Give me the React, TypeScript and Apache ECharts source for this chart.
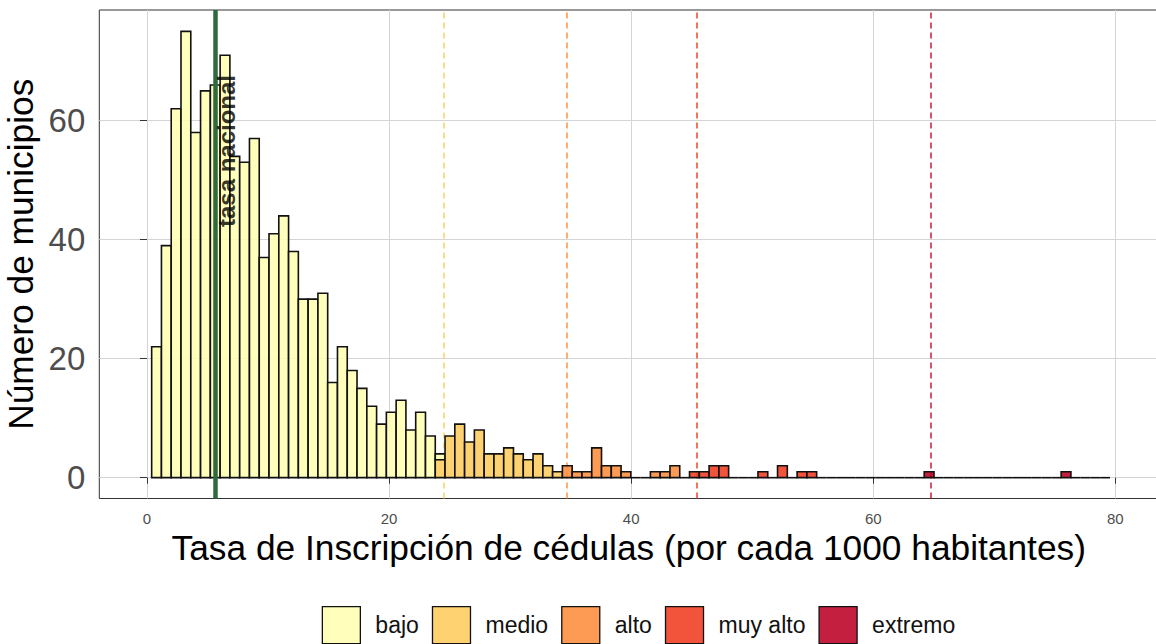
import React, { useEffect, useRef } from "react";
import * as echarts from "echarts";

// ---- data ----
const categories = ["bajo", "medio", "alto", "muy alto", "extremo"];
const categoryFill = [
  "rgba(255,255,178,0.88)",
  "rgba(254,204,92,0.88)",
  "rgba(253,141,60,0.88)",
  "rgba(240,59,32,0.88)",
  "rgba(189,0,38,0.88)",
];
const lineColors = ["#FECC5C", "#FD8D3C", "#F03B20", "#C8102E"];

const binStart = 0.386;
const binWidth = 0.8079;
const binCount = 98;

// counts per category; first value belongs to the bin index given by *Start
const bajoStart = 0;
const bajoCounts = [22, 39, 62, 75, 58, 65, 66, 71, 54, 53, 57, 37, 41, 44, 38, 30, 30, 31, 16, 22, 18, 15, 12, 9, 11, 13, 8, 11, 7, 1];
const medioStart = 29;
const medioCounts = [3, 7, 9, 6, 8, 4, 4, 5, 4, 3, 4, 2, 1];
const altoStart = 42;
const altoCounts = [2, 1, 1, 5, 2, 2, 1, 0, 0, 1, 1, 2];
const muyAltoStart = 55;
const muyAltoCounts = [1, 1, 2, 2, 0, 0, 0, 1, 0, 2, 0, 1, 1];
const extremoStart = 79;
const extremoCounts = [1, 0, 0, 0, 0, 0, 0, 0, 0, 0, 0, 0, 0, 0, 1];

const nationalRate = 5.64;
const thresholds = [24.51, 34.67, 45.43, 64.75];

const xTicks = [0, 20, 40, 60, 80];
const yTicks = [0, 20, 40, 60];

const FONT = "'Liberation Sans', Arial, sans-serif";

function expand(start: number, counts: number[]): number[] {
  const arr = new Array(binCount).fill(0);
  counts.forEach((c, i) => (arr[start + i] = c));
  return arr;
}

export default function App() {
  const ref = useRef<HTMLDivElement>(null);
  useEffect(() => {
    if (!ref.current) return;
    const chart = echarts.init(ref.current, null, { renderer: "svg" });

    const perCat = [
      expand(bajoStart, bajoCounts),
      expand(medioStart, medioCounts),
      expand(altoStart, altoCounts),
      expand(muyAltoStart, muyAltoCounts),
      expand(extremoStart, extremoCounts),
    ];
    // stack: last category at bottom, first on top
    const catData: number[][][] = categories.map(() => []);
    const emptyBins: number[][] = [];
    for (let b = 0; b < binCount; b++) {
      const x0 = binStart + b * binWidth;
      const x1 = x0 + binWidth;
      let cum = 0;
      let total = 0;
      for (let c = categories.length - 1; c >= 0; c--) {
        const v = perCat[c][b];
        if (v > 0) {
          catData[c].push([x0, x1, cum, cum + v]);
          cum += v;
          total += v;
        }
      }
      if (total === 0) emptyBins.push([x0, x1, 0, 0]);
    }

    const barSeries = categories.map((name, ci) => ({
      name,
      type: "custom",
      z: 5,
      itemStyle: { color: categoryFill[ci] },
      encode: { x: [0, 1], y: [2, 3] },
      data: catData[ci],
      renderItem: (params: any, api: any) => {
        const p0 = api.coord([api.value(0), api.value(3)]);
        const p1 = api.coord([api.value(1), api.value(2)]);
        return {
          type: "rect",
          shape: { x: p0[0], y: p0[1], width: p1[0] - p0[0], height: p1[1] - p0[1] },
          style: { fill: categoryFill[ci], stroke: "#111111", lineWidth: 1.6 },
        };
      },
    }));

    const option: any = {
      animation: false,
      backgroundColor: "#ffffff",
      textStyle: { fontFamily: FONT },
      grid: {
        left: 99.3,
        top: 10,
        right: -2.2,
        bottom: 145.5,
        show: true,
        borderColor: "#333333",
        borderWidth: 1,
        containLabel: false,
        outerBoundsMode: "none",
      },
      legend: {
        data: categories,
        left: 321.7,
        top: 606,
        padding: 0,
        itemWidth: 38,
        itemHeight: 37,
        itemGap: 13,
        icon: "rect",
        selectedMode: false,
        itemStyle: { borderColor: "#111111", borderWidth: 1.3 },
        textStyle: { fontSize: 23, color: "#111111", fontFamily: FONT, padding: [0, 0, 0, 10] },
      },
      xAxis: {
        type: "value",
        min: -3.94,
        max: 83.54,
        name: "Tasa de Inscripción de cédulas (por cada 1000 habitantes)",
        nameLocation: "middle",
        nameGap: 31,
        nameTextStyle: { fontSize: 35.3, color: "#000000", fontFamily: FONT },
        axisLine: { show: false },
        axisTick: { show: true, length: 6, customValues: xTicks, lineStyle: { color: "#333333" } },
        axisLabel: { customValues: xTicks, fontSize: 15, color: "#4D4D4D", margin: 12, fontFamily: FONT },
        splitLine: { show: true, lineStyle: { color: "#D4D4D4", width: 1 } },
      },
      yAxis: {
        type: "value",
        min: -3.5,
        max: 78.6,
        name: "Número de municipios",
        nameLocation: "middle",
        nameGap: 60,
        nameTextStyle: { fontSize: 35.3, color: "#000000", fontFamily: FONT },
        axisLine: { show: false },
        axisTick: { show: true, length: 7, customValues: yTicks, lineStyle: { color: "#333333" } },
        axisLabel: { customValues: yTicks, fontSize: 33, color: "#4D4D4D", margin: 14, fontFamily: FONT },
        splitLine: { show: true, lineStyle: { color: "#D4D4D4", width: 1 } },
      },
      series: [
        {
          name: "thresholds",
          type: "scatter",
          data: [],
          z: 1,
          silent: true,
          markLine: {
            z: 1,
            silent: true,
            symbol: ["none", "none"],
            label: { show: false },
            data: thresholds.map((t, i) => ({
              xAxis: t,
              lineStyle: { color: lineColors[i], type: [6, 4], width: 1.5, opacity: 0.95 },
            })),
          },
        },
        {
          name: "empty",
          type: "custom",
          z: 4,
          encode: { x: [0, 1], y: [2, 3] },
          data: emptyBins,
          renderItem: (params: any, api: any) => {
            const p0 = api.coord([api.value(0), 0]);
            const p1 = api.coord([api.value(1), 0]);
            return {
              type: "line",
              shape: { x1: p0[0], y1: p0[1], x2: p1[0], y2: p1[1] },
              style: { stroke: "#111111", lineWidth: 1.6 },
            };
          },
        },
        ...barSeries,
        {
          name: "nacional",
          type: "scatter",
          data: [],
          z: 10,
          silent: true,
          markLine: {
            z: 10,
            silent: true,
            symbol: ["none", "none"],
            label: { show: false },
            data: [{ xAxis: nationalRate, lineStyle: { color: "#2F6A3E", type: "solid", width: 4.5 } }],
          },
        },
        {
          name: "etiqueta",
          type: "scatter",
          z: 20,
          silent: true,
          symbolSize: 0,
          data: [[6.6, 54.9]],
          label: {
            show: true,
            position: "inside",
            formatter: "tasa nacional",
            rotate: 90,
            fontSize: 24,
            fontWeight: "bold",
            color: "#000000",
            fontFamily: FONT,
          },
        },
      ],
    };
    chart.setOption(option);
    return () => chart.dispose();
  }, []);
  return (
    <div
      ref={ref}
      style={{ position: "fixed", left: 0, top: 0, width: 1156, height: 644, background: "#fff" }}
    />
  );
}
